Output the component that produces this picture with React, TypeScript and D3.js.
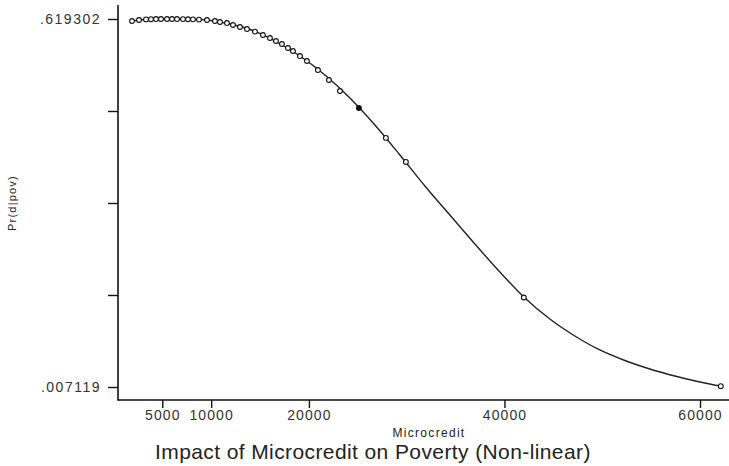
import React, {useEffect, useRef} from 'react';
import * as d3 from 'd3';

// observed points (microcredit, predicted probability)
const creditObs = [1902, 2618, 3333, 3845, 4356, 4867, 5481, 5992, 6503, 7117, 7628, 8139, 8753, 9571, 10389, 10900, 11616, 12229, 12945, 13661, 14479, 15297, 16012, 16626, 17239, 17853, 18364, 19080, 19796, 20920, 22045, 23170, 25112, 27873, 29918, 41984, 62127];
const probObs = [0.6160, 0.6176, 0.6186, 0.6190, 0.6192, 0.6193, 0.6193, 0.6193, 0.6192, 0.6191, 0.6189, 0.6187, 0.6183, 0.6176, 0.6160, 0.6143, 0.6126, 0.6093, 0.6060, 0.6026, 0.5983, 0.5927, 0.5877, 0.5827, 0.5777, 0.5711, 0.5661, 0.5577, 0.5494, 0.5344, 0.5178, 0.4995, 0.4712, 0.4215, 0.3815, 0.1560, 0.0085];
const filledIndex = [32];

// fitted non-linear curve
const creditFit = [1902, 3742, 6299, 8855, 11411, 13967, 16524, 19080, 21636, 24192, 26748, 29305, 31861, 34417, 36973, 39530, 42086, 44642, 47198, 49755, 52311, 54867, 57423, 59979, 62127];
const probFit = [0.6160, 0.6190, 0.6193, 0.6185, 0.6126, 0.6018, 0.5827, 0.5577, 0.5261, 0.4879, 0.4430, 0.3931, 0.3415, 0.2932, 0.2450, 0.1984, 0.1552, 0.1202, 0.0920, 0.0687, 0.0512, 0.0371, 0.0254, 0.0154, 0.0085];

const xTicks = [5000, 10000, 20000, 40000, 60000];
const yTicks = [0.007119, 0.160165, 0.31321, 0.466256, 0.619302];
const yTickLabels = ['.007119', '', '', '', '.619302'];

const font = '"Liberation Sans", Arial, Helvetica, sans-serif';

const App = () => {
    const svgRef = useRef(null);
    const width = 729;
    const height = 466;

    useEffect(() => {
        const svg = d3.select(svgRef.current);
        svg.selectAll('*').remove();

        const xScale = d3.scaleLinear().domain([0, 60000]).range([113.4, 700]);
        const yScale = d3.scaleLinear().domain([0.007119, 0.619302]).range([387, 19]);

        // axes
        const xAxis = d3.axisBottom(xScale)
            .tickValues(xTicks)
            .tickFormat(d => String(d))
            .tickSize(8)
            .tickPadding(2);
        const gx = svg.append('g')
            .attr('transform', 'translate(0, 400)')
            .call(xAxis);
        gx.select('.domain').remove();
        gx.append('line')
            .attr('x1', 118).attr('x2', width)
            .attr('stroke', '#111').attr('stroke-width', 1.6);

        const yAxis = d3.axisLeft(yScale)
            .tickValues(yTicks)
            .tickFormat((d, i) => yTickLabels[i])
            .tickSize(10)
            .tickPadding(7);
        const gy = svg.append('g')
            .attr('transform', 'translate(118, 0)')
            .call(yAxis);
        gy.select('.domain').remove();
        gy.append('line')
            .attr('y1', 5).attr('y2', 400.8)
            .attr('stroke', '#111').attr('stroke-width', 1.6);

        [gx, gy].forEach(g => {
            g.selectAll('.tick line').attr('stroke', '#111').attr('stroke-width', 1.4);
            g.selectAll('.tick text')
                .attr('fill', '#333')
                .style('font-family', font)
                .style('font-size', '14px');
        });
        gx.selectAll('.tick text').style('letter-spacing', '1.1px');
        gy.selectAll('.tick text').style('letter-spacing', '1.5px');

        // fitted line
        const fit = creditFit.map((c, i) => [c, probFit[i]]);
        const line = d3.line()
            .x(d => xScale(d[0]))
            .y(d => yScale(d[1]))
            .curve(d3.curveMonotoneX);
        svg.append('path')
            .datum(fit)
            .attr('d', line)
            .attr('fill', 'none')
            .attr('stroke', '#222')
            .attr('stroke-width', 1.4);

        // markers
        svg.selectAll('circle.obs')
            .data(creditObs.map((c, i) => [c, probObs[i], i]))
            .enter()
            .append('circle')
            .attr('class', 'obs')
            .attr('cx', d => xScale(d[0]))
            .attr('cy', d => yScale(d[1]))
            .attr('r', 2.4)
            .attr('fill', d => filledIndex.includes(d[2]) ? '#111' : '#fff')
            .attr('stroke', '#111')
            .attr('stroke-width', 1.1);

        // titles
        svg.append('text')
            .attr('transform', 'translate(16, 203) rotate(-90)')
            .attr('text-anchor', 'middle')
            .style('font-family', font)
            .style('font-size', '11px')
            .style('letter-spacing', '1.2px')
            .attr('fill', '#222')
            .text('Pr(d|pov)');

        svg.append('text')
            .attr('x', 429)
            .attr('y', 437)
            .attr('text-anchor', 'middle')
            .style('font-family', font)
            .style('font-size', '12px')
            .style('letter-spacing', '1.3px')
            .attr('fill', '#222')
            .text('Microcredit');

        svg.append('text')
            .attr('x', 155)
            .attr('y', 459)
            .style('font-family', font)
            .style('font-size', '21px')
            .style('letter-spacing', '0.4px')
            .attr('fill', '#222')
            .text('Impact of Microcredit on Poverty (Non-linear)');
    }, []);

    return <svg ref={svgRef} width={width} height={height}
                style={{position: 'absolute', left: 0, top: 0, background: '#fff'}}></svg>;
};

export default App;
